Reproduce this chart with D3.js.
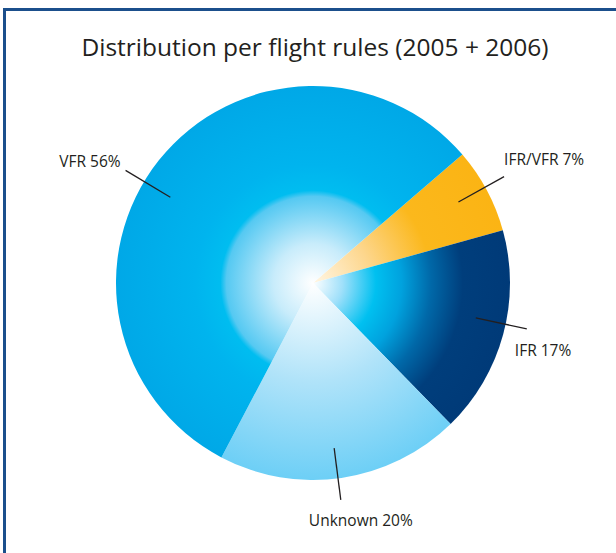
<html lang="en">
<head>
  <meta charset="UTF-8" />
  <title>Distribution per flight rules</title>
  <script src="https://d3js.org/d3.v7.min.js"></script>
  <style>
    body { margin: 0; background: #fff; }
    text { font-family: "Open Sans", "Noto Sans", sans-serif; fill: #231f20; }
  </style>
</head>
<body>
  <svg id="chart" width="616" height="553"></svg>
  <script>
    // data, in drawing order starting at the IFR/VFR wedge
    const categories = ["IFR/VFR", "IFR", "Unknown", "VFR"];
    const shares = [7, 17, 20, 56];
    const labels = ["IFR/VFR 7%", "IFR 17%", "Unknown 20%", "VFR 56%"];

    const svg = d3.select("svg#chart");
    const width = +svg.attr("width");
    const height = +svg.attr("height");

    const cx = 313, cy = 283, radius = 197;
    const startDeg = 49.3;

    // frame (open on right and bottom, cropped)
    svg.append("rect")
      .attr("x", 4.5).attr("y", 9.5)
      .attr("width", width + 20).attr("height", height + 20)
      .attr("fill", "none")
      .attr("stroke", "#1b4f8c")
      .attr("stroke-width", 3);

    svg.append("text")
      .attr("x", 315).attr("y", 56)
      .attr("text-anchor", "middle")
      .attr("font-size", 24.5)
      .text("Distribution per flight rules (2005 + 2006)");

    // radial gradients per slice
    const gradStops = {
      "IFR/VFR": [[0, "#fff6e4"], [0.3, "#fdd68c"], [0.6, "#fbb81c"], [1, "#fbb414"]],
      "IFR": [[0, "#ffffff"], [0.15, "#a0e0fa"], [0.32, "#00c0f0"], [0.45, "#00a2de"], [0.6, "#0068a8"], [0.76, "#003e7c"], [1, "#003a78"]],
      "Unknown": [[0, "#ffffff"], [0.5, "#b0e3f9"], [1, "#6dcff6"]],
      "VFR": [[0, "#ffffff"], [0.2, "#c8ecfb"], [0.44, "#55c9f2"], [0.47, "#00bdf0"], [0.6, "#00b4ee"], [1, "#00a8e7"]]
    };
    const defs = svg.append("defs");
    categories.forEach((c, i) => {
      const g = defs.append("radialGradient")
        .attr("id", "grad" + i)
        .attr("gradientUnits", "userSpaceOnUse")
        .attr("cx", 0).attr("cy", 0).attr("r", radius);
      gradStops[c].forEach(s => {
        g.append("stop").attr("offset", s[0]).attr("stop-color", s[1]);
      });
    });

    const pie = d3.pie()
      .sort(null)
      .value(d => d.value)
      .startAngle(startDeg * Math.PI / 180)
      .endAngle(startDeg * Math.PI / 180 + 2 * Math.PI);

    const data = categories.map((c, i) => ({ name: c, value: shares[i], label: labels[i], idx: i }));
    const arcs = pie(data);

    const arc = d3.arc().innerRadius(0).outerRadius(radius);

    const chartArea = svg.append("g")
      .attr("transform", `translate(${cx},${cy})`);

    chartArea.selectAll("path")
      .data(arcs)
      .join("path")
      .attr("d", arc)
      .attr("fill", d => `url(#grad${d.data.idx})`);

    // leader lines + labels
    const labelLayout = [
      { off: -1, dx: 0, dy: -12, anchor: "start" },
      { off: -3, dx: -12, dy: 27, anchor: "start" },
      { off: 1, dx: 20, dy: 26, anchor: "middle" },
      { off: -7.5, dx: -5, dy: -3, anchor: "end" }
    ];
    const polar = (a, r) => [Math.sin(a) * r, -Math.cos(a) * r];

    arcs.forEach(d => {
      const lay = labelLayout[d.data.idx];
      const mid = (d.startAngle + d.endAngle) / 2 + lay.off * Math.PI / 180;
      const p1 = polar(mid, radius * 0.845);
      const p2 = polar(mid, radius * 1.11);
      chartArea.append("line")
        .attr("x1", p1[0]).attr("y1", p1[1])
        .attr("x2", p2[0]).attr("y2", p2[1])
        .attr("stroke", "#231f20")
        .attr("stroke-width", 1.3);
      chartArea.append("text")
        .attr("x", p2[0] + lay.dx)
        .attr("y", p2[1] + lay.dy)
        .attr("text-anchor", lay.anchor)
        .attr("font-size", 15.5)
        .text(d.data.label);
    });
  </script>
</body>
</html>
